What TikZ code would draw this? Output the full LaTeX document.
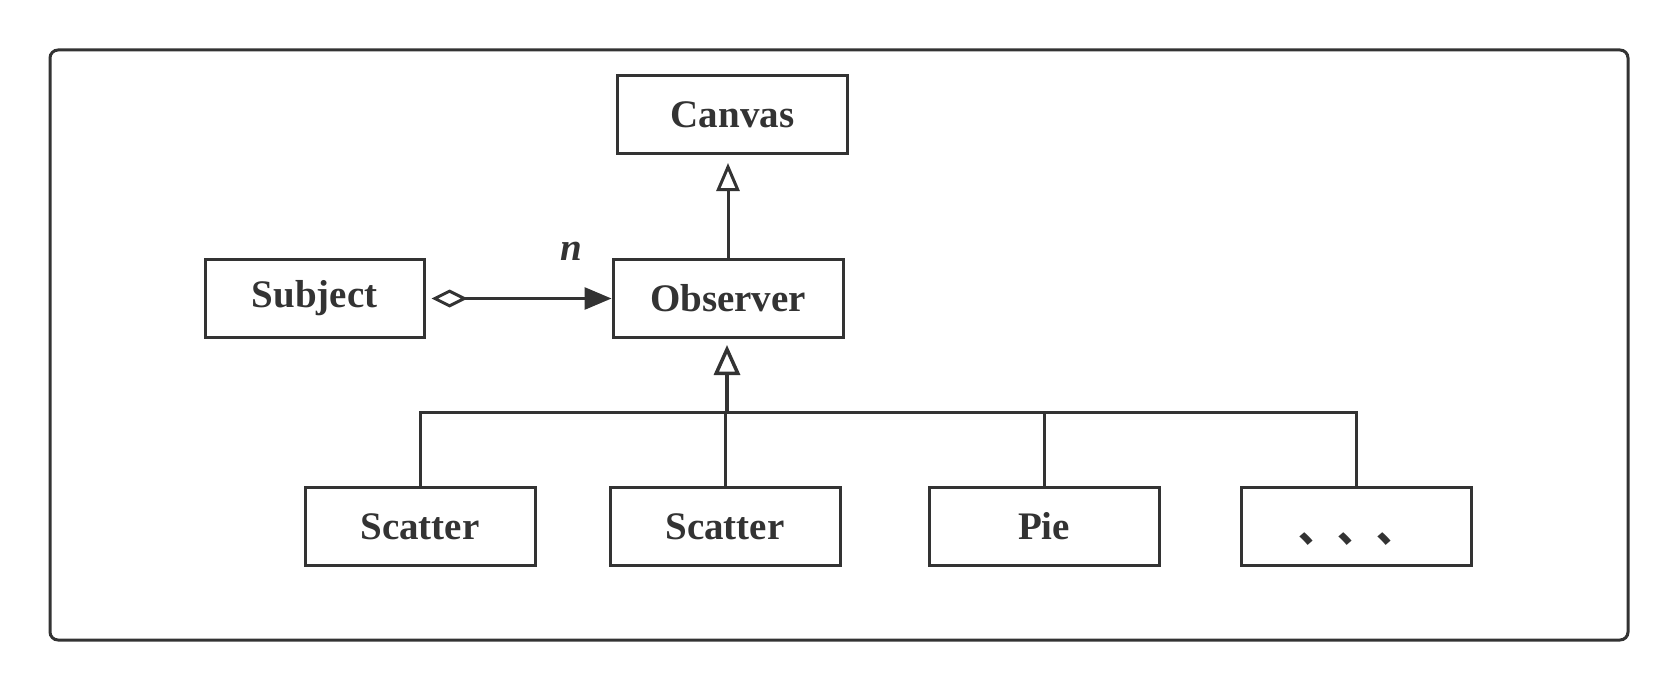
\documentclass[tikz,border=0pt]{standalone}
\usepackage{fontspec}
\setmainfont{Liberation Serif}
\newfontfamily\cjk{Noto Sans CJK SC}
\usetikzlibrary{arrows.meta}
\definecolor{ink}{HTML}{333333}
\begin{document}
\begin{tikzpicture}[x=1pt,y=-1pt,
  box/.style={draw=ink,line width=3pt,minimum width=230pt,minimum height=78pt,inner sep=0pt,font=\fontsize{39}{44}\selectfont\bfseries,text=ink},
  conn/.style={draw=ink,line width=3pt}]
\useasboundingbox (0,0) rectangle (1678,690);
\draw[ink,line width=3pt,rounded corners=8pt] (50,50) rectangle (1628,640);
\node[box] (canvas) at (732.5,114.5) {Canvas};
\node[box,minimum width=219pt] (subj) at (314.5,298.5) {Subject};
\node[box] (obs) at (728,298.5) {Observer};
\node[box] (s1) at (420,526.5) {Scatter};
\node[box] (s2) at (725,526.5) {Scatter};
\node[box] (pie) at (1044,526.5) {Pie};
\node[box] (dots) at (1356.5,526.5) {\raisebox{-16pt}[0pt][0pt]{\cjk\fontsize{39}{44}\selectfont 、、、}};
\coordinate (bus) at (727,412);
\node[font=\fontsize{39}{44}\selectfont\bfseries\itshape,text=ink] (n) at (571,251) {n};
\draw[conn,-{Triangle[open,length=28pt,width=23pt,line width=3pt]},shorten >=8pt] (obs.north) -- (obs.north |- canvas.south);
\draw[conn,line width=4.5pt,-{Triangle[open,length=30pt,width=26pt,line width=3.5pt]},shorten >=6pt] (bus) -- (bus |- obs.south);
\draw[conn] (s1.north) -- (s1.north |- bus) -- (dots.north |- bus) -- (dots.north);
\draw[conn] (s2.north) -- (s2.north |- bus);
\draw[conn] (pie.north) -- (pie.north |- bus);
\draw[conn,{Diamond[open,length=36pt,width=18pt,line width=3pt]}-{Triangle[length=27pt,width=22pt]},shorten <=6pt] (subj.east) -- (obs.west);
\end{tikzpicture}
\end{document}
